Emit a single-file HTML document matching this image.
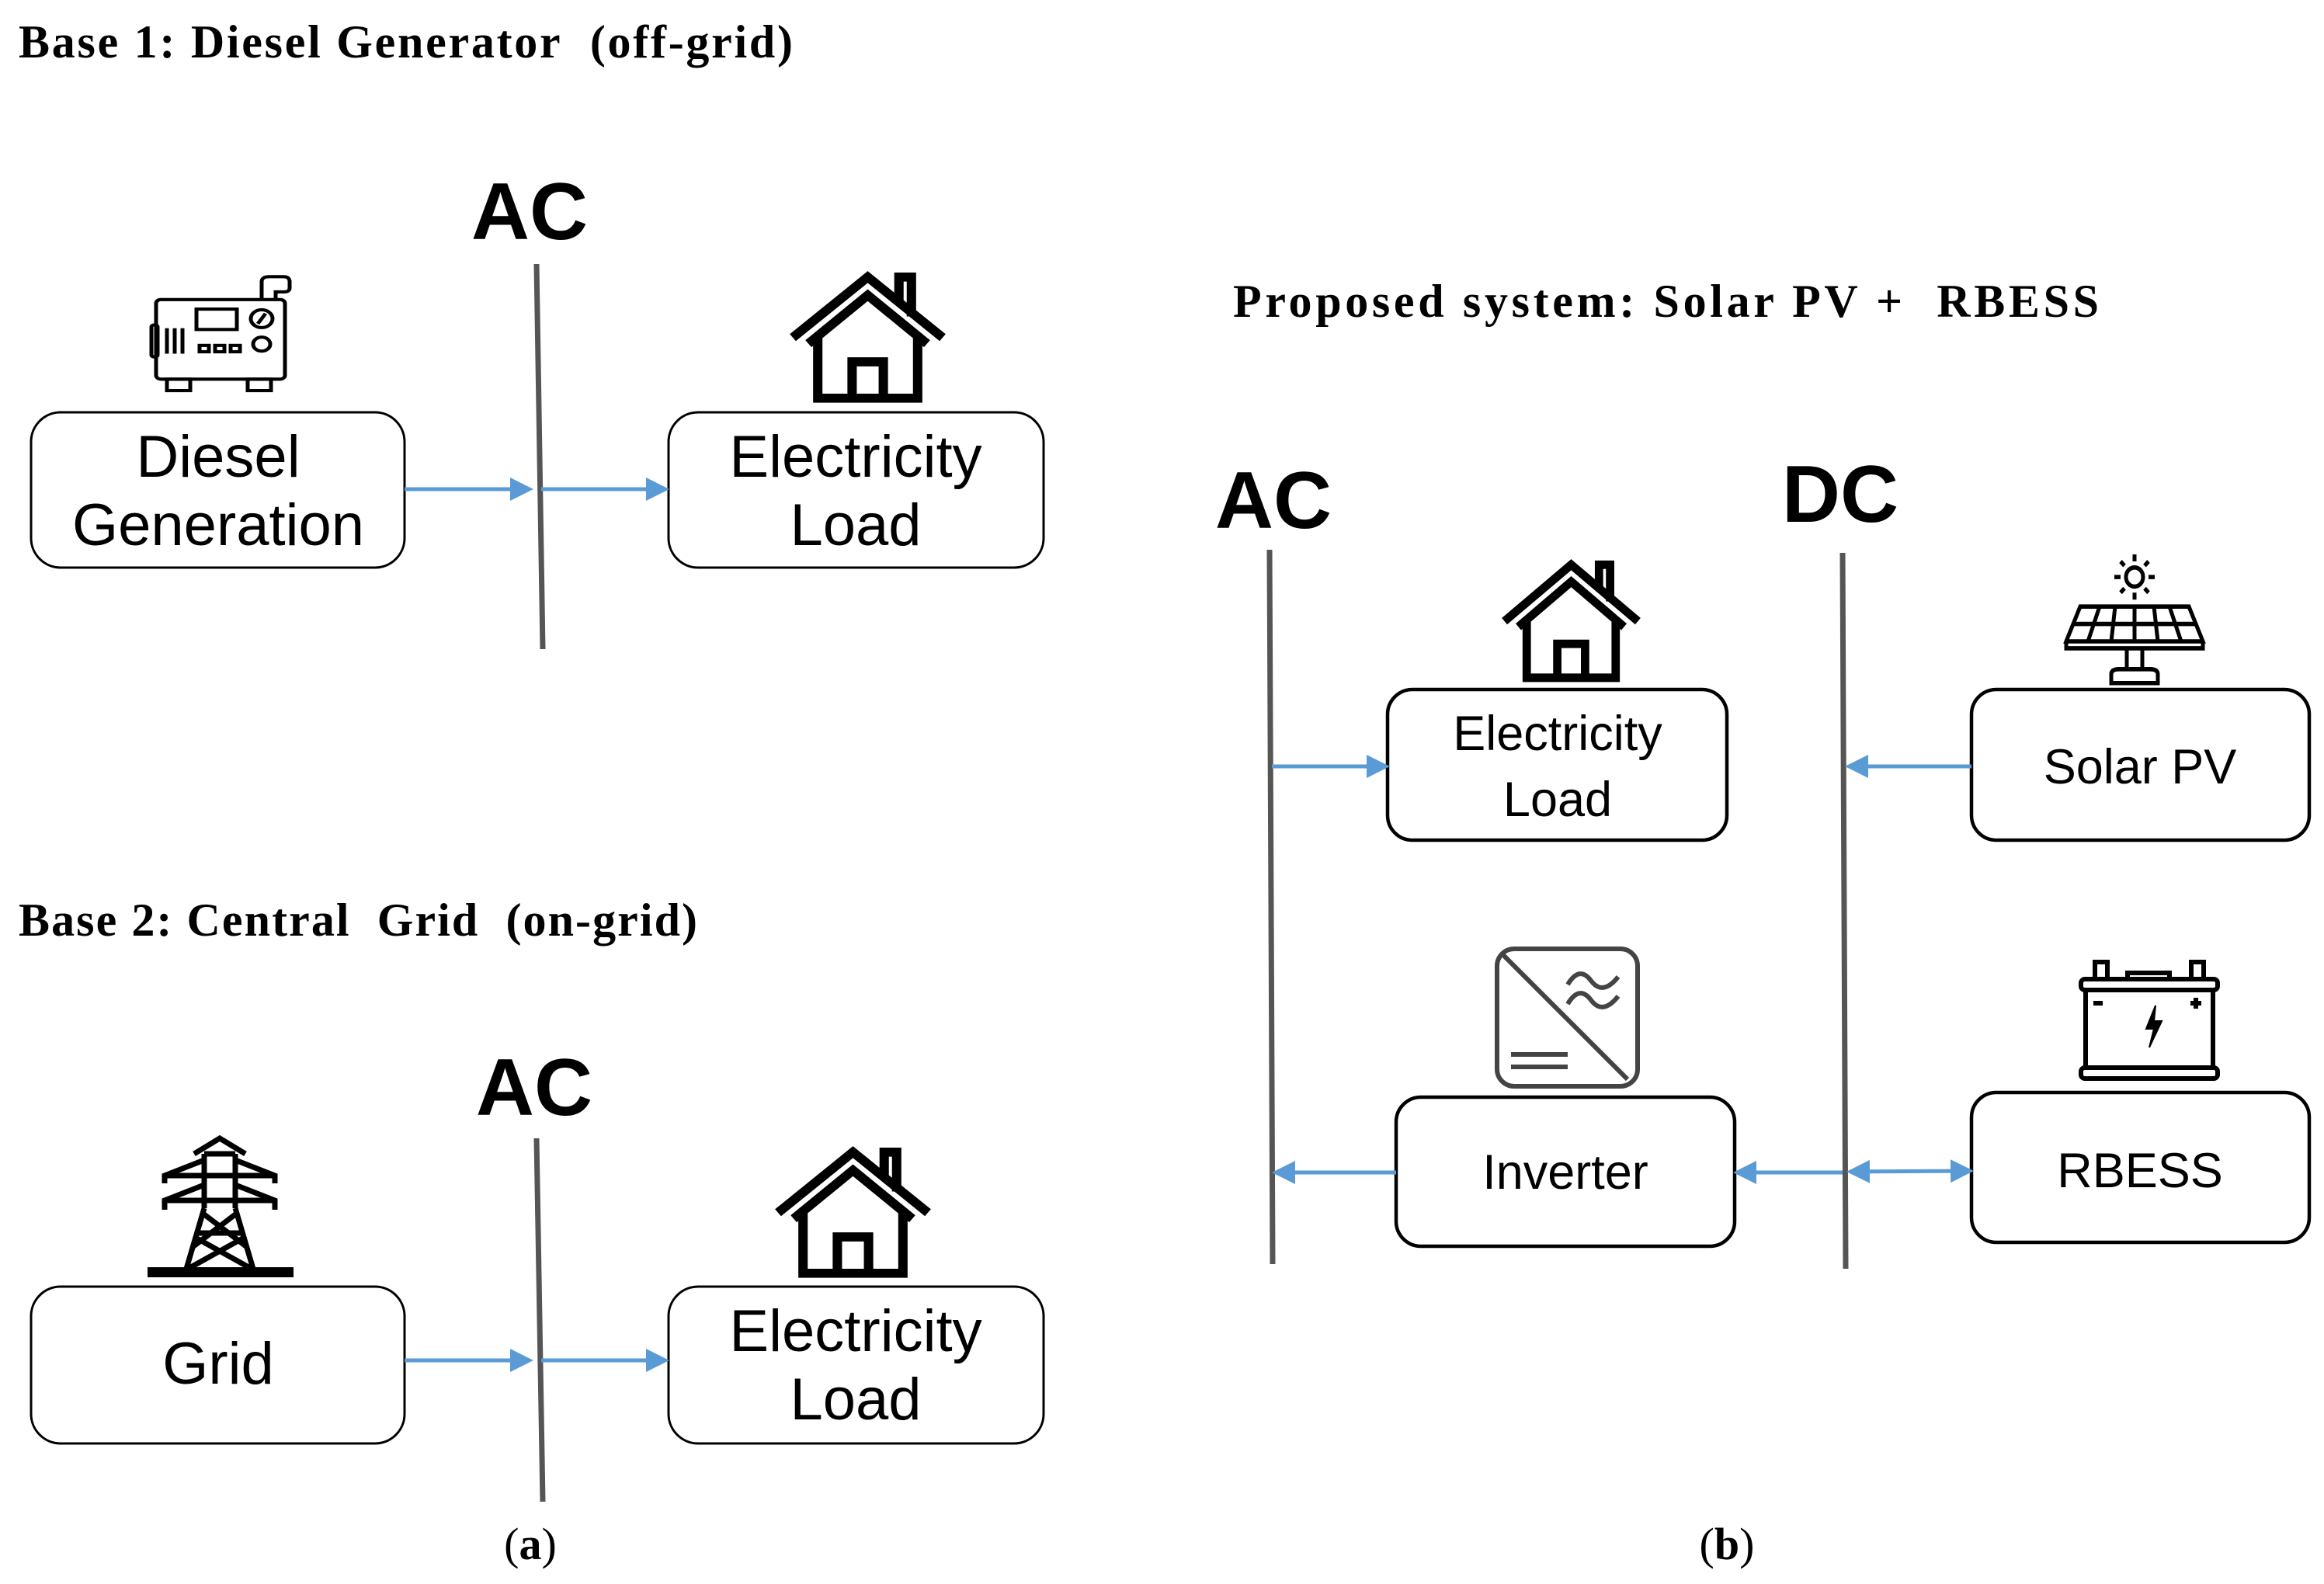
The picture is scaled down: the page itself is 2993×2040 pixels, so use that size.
<!DOCTYPE html>
<html><head><meta charset="utf-8"><style>
html,body{margin:0;padding:0;background:#fff}
svg{display:block}
.t{font-family:"Liberation Serif",serif;font-weight:bold;font-size:60px}
.h{font-family:"Liberation Sans",sans-serif;font-weight:bold;font-size:104px}
.b{font-family:"Liberation Sans",sans-serif;font-size:76px}
.c{font-family:"Liberation Sans",sans-serif;font-size:63px}
</style></head><body>
<svg width="2993" height="2040" viewBox="0 0 2993 2040" xmlns="http://www.w3.org/2000/svg">
<defs>
<marker id="ar" markerWidth="6" markerHeight="6" refX="5" refY="3" orient="auto" markerUnits="strokeWidth"><path d="M0,0 L6,3 L0,6 z" fill="#5b9bd5"/></marker>
<marker id="al" markerWidth="6" markerHeight="6" refX="1" refY="3" orient="auto" markerUnits="strokeWidth"><path d="M6,0 L0,3 L6,6 z" fill="#5b9bd5"/></marker>
<g id="house" fill="none" stroke="#000" stroke-width="6">
<path d="M2,44 L50,4 L98,44"/><path d="M12,48 L50,16 L88,48"/>
<path d="M70,22 V4 H78 V30"/>
<path d="M18,42 V84 H82 V42"/><path d="M40,84 V60 H60 V84"/>
</g>
</defs>
<!-- titles -->
<text class="t" x="24" y="74" textLength="997" lengthAdjust="spacing">Base 1: Diesel Generator&#160; (off-grid)</text>
<text class="t" x="24" y="1205" textLength="874" lengthAdjust="spacing">Base 2: Central&#160; Grid&#160; (on-grid)</text>
<text class="t" x="1588" y="408" textLength="1115" lengthAdjust="spacing">Proposed system: Solar PV +&#160; RBESS</text>
<text class="h" x="682" y="308" text-anchor="middle">AC</text>
<text class="h" x="688" y="1436" text-anchor="middle">AC</text>
<text class="h" x="1640" y="680" text-anchor="middle">AC</text>
<text class="h" x="2370" y="672" text-anchor="middle">DC</text>
<!-- bus lines -->
<g stroke="#555" stroke-width="7">
<line x1="691" y1="340" x2="699" y2="836"/>
<line x1="691" y1="1466" x2="699" y2="1934"/>
<line x1="1635" y1="708" x2="1639" y2="1628"/>
<line x1="2373" y1="712" x2="2377" y2="1634"/>
</g>
<!-- boxes -->
<g fill="#fff" stroke="#000" stroke-width="3">
<rect x="40" y="531" width="481" height="200" rx="38"/>
<rect x="861" y="531" width="483" height="200" rx="38"/>
<rect x="40" y="1657" width="481" height="202" rx="38"/>
<rect x="861" y="1657" width="483" height="202" rx="38"/>
</g>
<g fill="#fff" stroke="#000" stroke-width="4.5">
<rect x="1787" y="888" width="437" height="194" rx="32"/>
<rect x="2539" y="888" width="435" height="194" rx="32"/>
<rect x="1798" y="1413" width="436" height="192" rx="32"/>
<rect x="2539" y="1407" width="435" height="193" rx="32"/>
</g>
<g class="b" text-anchor="middle">
<text x="281" y="614">Diesel</text><text x="281" y="702">Generation</text>
<text x="1102" y="614">Electricity</text><text x="1102" y="702">Load</text>
<text x="281" y="1782">Grid</text>
<text x="1102" y="1740">Electricity</text><text x="1102" y="1828">Load</text>
</g>
<g class="c" text-anchor="middle">
<text x="2006" y="966">Electricity</text><text x="2006" y="1051">Load</text>
<text x="2756" y="1009">Solar PV</text>
<text x="2016" y="1531">Inverter</text>
<text x="2756" y="1529">RBESS</text>
</g>
<!-- arrows -->
<g stroke="#5b9bd5" stroke-width="5" fill="none">
<line x1="521" y1="630" x2="682" y2="630" marker-end="url(#ar)"/>
<line x1="697" y1="630" x2="857" y2="630" marker-end="url(#ar)"/>
<line x1="521" y1="1752" x2="682" y2="1752" marker-end="url(#ar)"/>
<line x1="697" y1="1752" x2="857" y2="1752" marker-end="url(#ar)"/>
<line x1="1638" y1="987" x2="1785" y2="987" marker-end="url(#ar)"/>
<line x1="2539" y1="987" x2="2381" y2="987" marker-end="url(#ar)"/>
<line x1="1798" y1="1510" x2="1643" y2="1510" marker-end="url(#ar)"/>
<line x1="2373" y1="1510" x2="2237" y2="1510" marker-end="url(#ar)"/>
<line x1="2383" y1="1509" x2="2537" y2="1508" marker-start="url(#al)" marker-end="url(#ar)"/>
</g>
<!-- houses -->
<use href="#house" transform="translate(1017,349) scale(2.01,1.95)"/>
<use href="#house" transform="translate(998,1476) scale(2.01,1.95)"/>
<use href="#house" transform="translate(1934,720) scale(1.79,1.82)"/>
<!-- generator -->
<g fill="none" stroke="#000" stroke-width="5" transform="translate(187,353) scale(1,0.82)">
<rect x="14" y="40" width="166" height="125" rx="6"/>
<path d="M150,40 V12 Q150,4 160,4 H178 Q186,4 186,12 V22 Q186,28 178,28 H168 V40"/>
<rect x="8" y="80" width="8" height="50" rx="3"/>
<rect x="66" y="55" width="52" height="32"/>
<circle cx="150" cy="70" r="14"/><line x1="145" y1="78" x2="155" y2="62"/>
<circle cx="150" cy="110" r="11"/>
<line x1="28" y1="85" x2="28" y2="125"/><line x1="38" y1="85" x2="38" y2="125"/><line x1="48" y1="85" x2="48" y2="125"/>
<rect x="70" y="112" width="12" height="10"/><rect x="90" y="112" width="12" height="10"/><rect x="110" y="112" width="12" height="10"/>
<rect x="28" y="165" width="30" height="18"/><rect x="132" y="165" width="30" height="18"/>
</g>
<!-- tower -->
<g fill="none" stroke="#000" stroke-width="7" transform="translate(190,1466)">
<path d="M60,20 L93,0 L126,20"/>
<path d="M73,20 V90 M113,20 V90 M73,20 H113 M73,48 H113 M73,80 H113"/>
<path d="M73,28 L22,48 V58 M113,28 L164,48 V58 M22,48 H164"/>
<path d="M73,60 L22,80 V92 M113,60 L164,80 V92 M22,80 H164"/>
<path d="M73,90 L50,168 M113,90 L136,168 M73,98 L128,140 M113,98 L58,140 M62,128 L134,168 M124,128 L52,168 M62,122 H124"/>
<rect x="0" y="166" width="188" height="13" fill="#000" stroke="none"/>
</g>
<!-- solar -->
<g fill="none" stroke="#000" stroke-width="5" transform="translate(2659,714) scale(1,1.12)">
<circle cx="90" cy="26" r="11"/>
<path d="M90,0 V8 M90,44 V52 M64,26 H72 M108,26 H116 M72,8 L77,13 M108,8 L103,13 M72,44 L77,39 M108,44 L103,39"/>
<path d="M20,60 H160 L178,100 H2 Z"/><path d="M2,100 V108 H178 V100"/>
<path d="M11,80 H169 M65,60 L60,100 M115,60 L120,100 M90,60 V100 M45,60 L30,100 M135,60 L150,100"/>
<path d="M80,108 V132 M100,108 V132 M60,148 V138 Q60,132 70,132 H110 Q120,132 120,138 V148 Z"/>
</g>
<!-- inverter -->
<g fill="none" stroke="#444" stroke-width="6" transform="translate(1924,1218)">
<rect x="4" y="4" width="181" height="177" rx="22"/>
<line x1="12" y1="12" x2="172" y2="172"/>
<path d="M95,50 Q110,25 125,45 T160,40 M95,75 Q110,50 125,70 T160,65"/>
<line x1="22" y1="140" x2="95" y2="140"/><line x1="22" y1="156" x2="95" y2="156"/>
</g>
<!-- battery -->
<g fill="none" stroke="#000" stroke-width="6" transform="translate(2676,1237)">
<rect x="4" y="24" width="176" height="14" rx="5"/>
<rect x="10" y="38" width="164" height="100"/>
<rect x="4" y="138" width="176" height="14" rx="5"/>
<rect x="22" y="2" width="16" height="22"/><rect x="146" y="2" width="16" height="22"/>
<path d="M64,24 V16 H118 V24"/>
<path d="M20,55 H32 M152,48 V62 M145,55 H159"/>
<path d="M100,58 L88,88 H98 L92,112 L108,78 H98 Z" fill="#000" stroke-width="2"/>
</g>
<text x="683" y="2008" text-anchor="middle" style="font-family:'Liberation Serif',serif;font-size:58px">(<tspan font-weight="bold">a</tspan>)</text>
<text x="2224" y="2008" text-anchor="middle" style="font-family:'Liberation Serif',serif;font-size:58px">(<tspan font-weight="bold">b</tspan>)</text>
</svg>
</body></html>
